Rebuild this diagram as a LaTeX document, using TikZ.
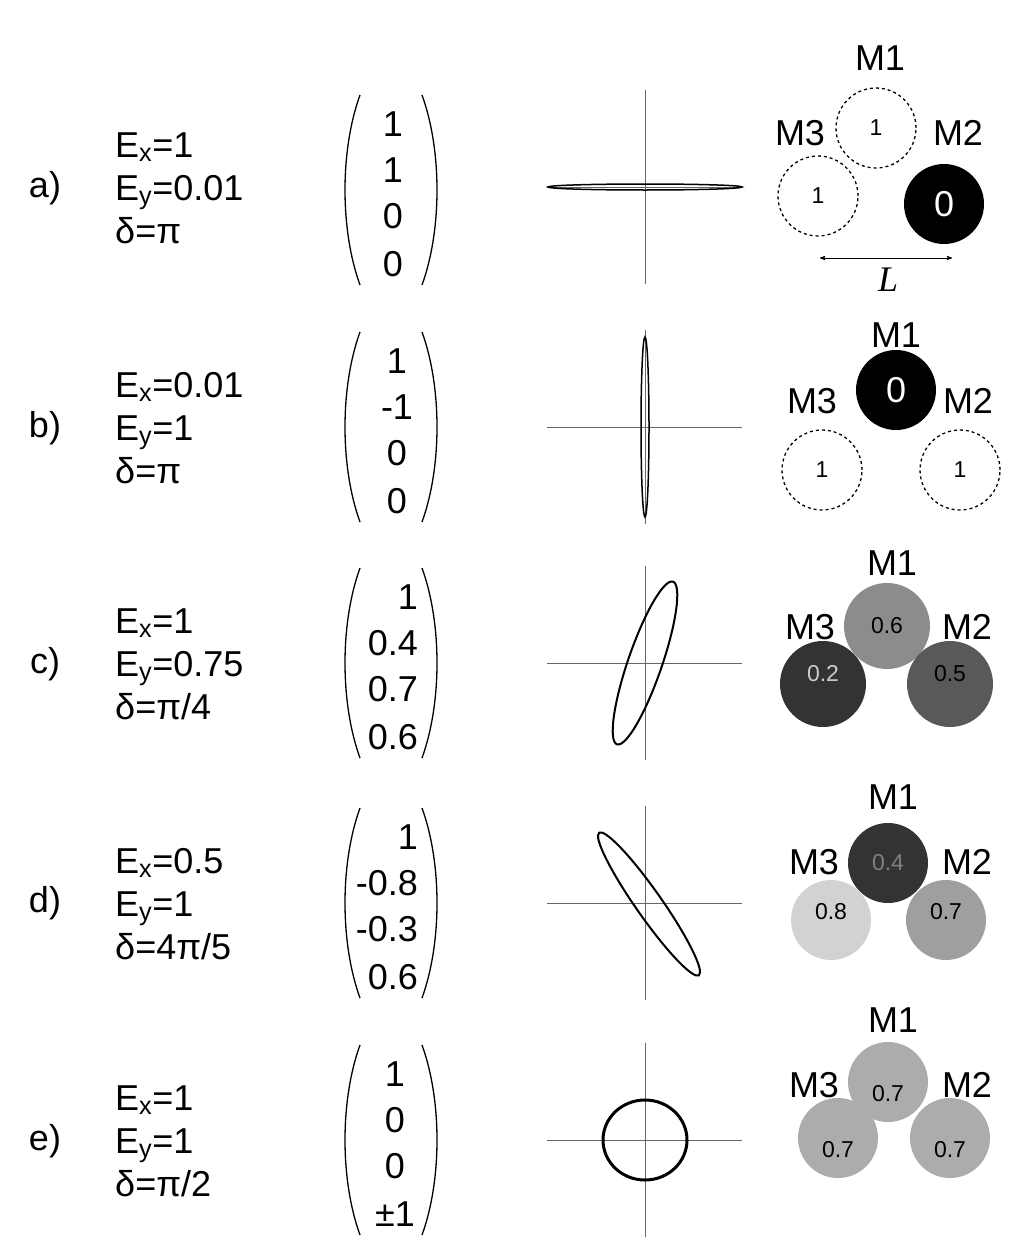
\documentclass[tikz,border=0pt]{standalone}
\usepackage{fontspec}
\setmainfont{Liberation Sans}
\newfontfamily\serifit{Liberation Serif}
\usetikzlibrary{arrows}

\tikzset{
  txt/.style={font=\fontsize{36}{40}\selectfont, inner sep=0pt},
  lbl/.style={font=\fontsize{36}{40}\selectfont, inner sep=0pt},
  val/.style={font=\fontsize{23}{26}\selectfont, inner sep=0pt},
  mirror/.style={circle, minimum size=80pt, inner sep=0pt},
  off/.style={mirror, draw, dashed, line width=1.3pt},
  axis/.style={gray!80!black, line width=0.9pt},
  curve/.style={line width=2pt},
  paren/.style={line width=1.3pt}
}
% parameters: y, Ex, Ey, delta
\newcommand{\params}[4]{%
  \node[txt,anchor=base west] at (115,#1-30) {E\textsubscript{x}=#2};
  \node[txt,anchor=base west] at (115,#1+13) {E\textsubscript{y}=#3};
  \node[txt,anchor=base west] at (115,#1+56) {δ=#4};}
% vector: y, anchor x, three entries
\newcommand{\vecent}[6]{%
  \draw[paren] (360,#1-95) .. controls (340,#1-40) and (340,#1+40) .. (360,#1+95);
  \draw[paren] (422,#1-95) .. controls (442,#1-40) and (442,#1+40) .. (422,#1+95);
  \node[txt,anchor=base #2] at (#3,#1-54) {#4};
  \node[txt,anchor=base #2] at (#3,#1-8) {#5};
  \node[txt,anchor=base #2] at (#3,#1+38) {#6};}
\newcommand{\axes}[1]{%
  \draw[axis] (645,#1-97) -- (645,#1+97);
  \draw[axis] (547,#1) -- (742,#1);}

\begin{document}
\begin{tikzpicture}[x=1pt,y=-1pt,>=stealth']
  \useasboundingbox (0,0) rectangle (1024,1255);

  % row a
  \node[txt] (la) at (45,188) {a)};
  \params{187}{1}{0.01}{π}
  \vecent{190}{}{393}{1}{1}{0}
  \node[txt,anchor=base] (va) at (393,276) {0};
  \axes{187}
  \draw[curve, line width=1.5pt] (645,187) ellipse [x radius=97, y radius=3];
  \node[off] (a1) at (876,128) {}; \node[val] at (a1) {1};
  \node[off] (a3) at (818,196) {}; \node[val] at (a3) {1};
  \node[mirror, fill=black] (a2) at (944,204) {};
  \node[lbl, white] at (a2) {0};
  \node[lbl] (ma1) at (880,58) {M1};
  \node[lbl] (ma3) at (800,133) {M3};
  \node[lbl] (ma2) at (958,133) {M2};
  \coordinate (ll) at (820,258);
  \coordinate (lr) at (952,258);
  \draw[<->, line width=0.9pt] (ll) -- (lr);
  \node[lbl, font=\fontsize{36}{40}\serifit\itshape] (L) at (888,280) {L};

  % row b
  \node[txt] (lb) at (45,428) {b)};
  \params{427}{0.01}{1}{π}
  \vecent{427}{}{397}{1}{-1}{0}
  \node[txt,anchor=base] (vb) at (397,513) {0};
  \axes{427}
  \draw[curve, line width=1.5pt] (645,427) ellipse [x radius=4, y radius=90];
  \node[mirror, fill=black] (b1) at (896,390) {};
  \node[lbl, white] at (b1) {0};
  \node[off] (b3) at (822,470) {}; \node[val] at (b3) {1};
  \node[off] (b2) at (960,470) {}; \node[val] at (b2) {1};
  \node[lbl] (mb1) at (896,335) {M1};
  \node[lbl] (mb3) at (812,401) {M3};
  \node[lbl] (mb2) at (968,401) {M2};

  % row c
  \node[txt] (lc) at (45,664) {c)};
  \params{663}{1}{0.75}{π/4}
  \vecent{663}{east}{418}{1}{0.4}{0.7}
  \node[txt,anchor=base east] (vc) at (418,749) {0.6};
  \axes{663}
  \draw[curve] (645,663) ellipse [x radius=86, y radius=17, rotate=71];
  \node[mirror, minimum size=86pt, fill=gray!90] (c1) at (887,626) {};
  \node[val] at (c1) {0.6};
  \node[mirror, minimum size=86pt, fill=black!80] (c3) at (823,684) {};
  \node[val, gray!40] at ([yshift=10]c3) {0.2};
  \node[mirror, minimum size=86pt, fill=black!65] (c2) at (950,684) {};
  \node[val] at ([yshift=10]c2) {0.5};
  \node[lbl] (mc1) at (892,563) {M1};
  \node[lbl] (mc3) at (810,627) {M3};
  \node[lbl] (mc2) at (967,627) {M2};

  % row d
  \node[txt] (ld) at (45,903) {d)};
  \params{903}{0.5}{1}{4π/5}
  \vecent{903}{east}{418}{1}{-0.8}{-0.3}
  \node[txt,anchor=base east] (vd) at (418,989) {0.6};
  \axes{903}
  \draw[curve] (649,904) ellipse [x radius=87, y radius=13, rotate=-55];
  \node[mirror, fill=black!80] (d1) at (888,863) {};
  \node[val, gray] at (d1) {0.4};
  \node[mirror, fill=gray!35] (d3) at (831,920) {};
  \node[val] at ([yshift=8]d3) {0.8};
  \node[mirror, fill=gray!75] (d2) at (946,920) {};
  \node[val] at ([yshift=8]d2) {0.7};
  \node[lbl] (md1) at (893,797) {M1};
  \node[lbl] (md3) at (814,862) {M3};
  \node[lbl] (md2) at (967,862) {M2};

  % row e
  \node[txt] (le) at (45,1141) {e)};
  \params{1140}{1}{1}{π/2}
  \vecent{1140}{}{395}{1}{0}{0}
  \node[txt,anchor=base] (ve) at (395,1226) {±1};
  \axes{1140}
  \draw[curve, line width=3pt] (645,1140) ellipse [x radius=42, y radius=40];
  \node[mirror, fill=gray!65] (e1) at (888,1082) {};
  \node[val] at ([yshift=-12]e1) {0.7};
  \node[mirror, fill=gray!65] (e3) at (838,1138) {};
  \node[val] at ([yshift=-12]e3) {0.7};
  \node[mirror, fill=gray!65] (e2) at (950,1138) {};
  \node[val] at ([yshift=-12]e2) {0.7};
  \node[lbl] (me1) at (893,1020) {M1};
  \node[lbl] (me3) at (814,1085) {M3};
  \node[lbl] (me2) at (967,1085) {M2};
\end{tikzpicture}
\end{document}
